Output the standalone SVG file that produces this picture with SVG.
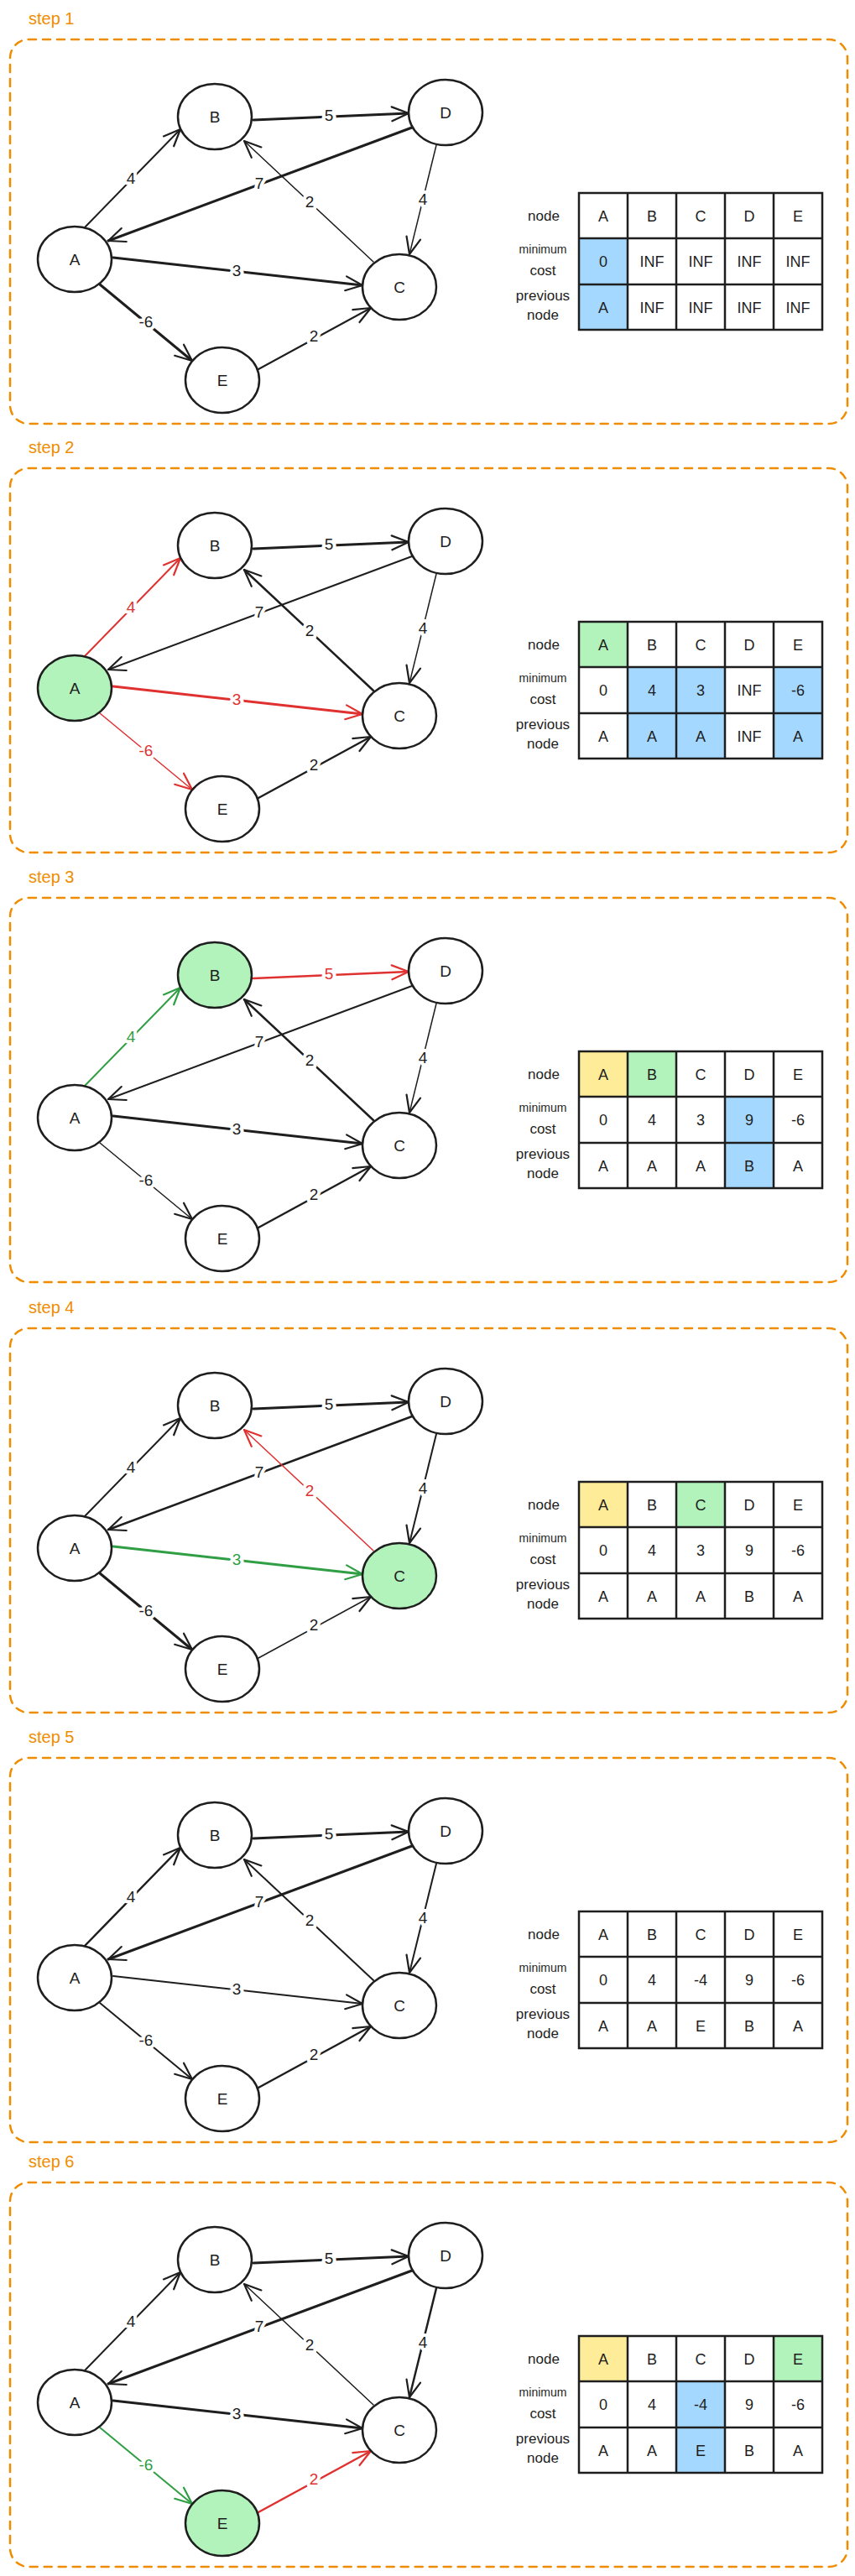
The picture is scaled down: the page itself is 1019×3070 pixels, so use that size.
<svg xmlns="http://www.w3.org/2000/svg" width="1019" height="3070" viewBox="0 0 1019 3070">
<style>
text{font-family:"Liberation Sans",Arial,sans-serif}
.box{fill:none;stroke:#f08c00;stroke-width:2.5;stroke-dasharray:9 8;stroke-linecap:round}
.step{font-size:20px;fill:#f08c00}
.node ellipse{fill:#fff;stroke:#1e1e1e;stroke-width:2.5}
.node.hl ellipse{fill:#b2f2bb}
.node text{font-size:19px;fill:#1e1e1e;text-anchor:middle}
.e{fill:none;stroke:#1e1e1e;stroke-linecap:round;marker-end:url(#arrK)}
.e.r{stroke:#e03131;marker-end:url(#arrR)}
.e.g{stroke:#2f9e44;marker-end:url(#arrG)}
.lbl{font-size:19px;text-anchor:middle;fill:#1e1e1e;stroke:#fff;stroke-width:8;paint-order:stroke;stroke-linejoin:round}
.lbl.r{fill:#e03131}
.lbl.g{fill:#2f9e44}
.grid{fill:none;stroke:#1e1e1e;stroke-width:2.5}
.cell{font-size:18px;text-anchor:middle;fill:#1e1e1e}
.rl{font-size:17px;text-anchor:middle;fill:#1e1e1e}
.rl.sm{font-size:14px}
.blue{fill:#a5d8ff}
.green{fill:#b2f2bb}
.yellow{fill:#ffec99}
</style>
<defs>
<marker id="arrK" markerUnits="userSpaceOnUse" markerWidth="26" markerHeight="22" viewBox="0 -11 26 22" refX="22" refY="0" orient="auto"><path d="M2,-8.5 L22,0 L2,8.5" fill="none" stroke="#1e1e1e" stroke-width="2.2" stroke-linecap="round" stroke-linejoin="round"/></marker>
<marker id="arrR" markerUnits="userSpaceOnUse" markerWidth="26" markerHeight="22" viewBox="0 -11 26 22" refX="22" refY="0" orient="auto"><path d="M2,-8.5 L22,0 L2,8.5" fill="none" stroke="#e03131" stroke-width="2.2" stroke-linecap="round" stroke-linejoin="round"/></marker>
<marker id="arrG" markerUnits="userSpaceOnUse" markerWidth="26" markerHeight="22" viewBox="0 -11 26 22" refX="22" refY="0" orient="auto"><path d="M2,-8.5 L22,0 L2,8.5" fill="none" stroke="#2f9e44" stroke-width="2.2" stroke-linecap="round" stroke-linejoin="round"/></marker>
</defs>
<rect width="1019" height="3070" fill="#fff"/>

<!-- STEP 1 -->
<g id="step1">
<text class="step" x="34" y="29">step 1</text>
<rect class="box" x="12" y="47" width="998" height="458" rx="22"/>
<g id="s1-edges">
<path class="e" stroke-width="2" d="M101,271 L215,154"/>
<path class="e" stroke-width="3" d="M302,143 L487,135"/>
<path class="e" stroke-width="3" d="M491,152 L129,287"/>
<path class="e" stroke-width="1.5" d="M445,312 L291,168"/>
<path class="e" stroke-width="1.5" d="M520,173 L488,303"/>
<path class="e" stroke-width="3" d="M135,307 L432,340"/>
<path class="e" stroke-width="3" d="M119,339 L229,430"/>
<path class="e" stroke-width="2" d="M308,440 L442,367"/>
<text class="lbl" x="156" y="219">4</text>
<text class="lbl" x="392" y="144">5</text>
<text class="lbl" x="309" y="225">7</text>
<text class="lbl" x="369" y="247">2</text>
<text class="lbl" x="504" y="244">4</text>
<text class="lbl" x="282" y="329">3</text>
<text class="lbl" x="174" y="390">-6</text>
<text class="lbl" x="374" y="407">2</text>
</g>
<g id="s1-A" class="node"><ellipse cx="89" cy="309" rx="44" ry="39"/><text x="89" y="316">A</text></g>
<g id="s1-B" class="node"><ellipse cx="256" cy="139" rx="44" ry="39"/><text x="256" y="146">B</text></g>
<g id="s1-D" class="node"><ellipse cx="531" cy="134" rx="44" ry="39"/><text x="531" y="141">D</text></g>
<g id="s1-C" class="node"><ellipse cx="476" cy="342" rx="44" ry="39"/><text x="476" y="349">C</text></g>
<g id="s1-E" class="node"><ellipse cx="265" cy="453" rx="44" ry="39"/><text x="265" y="460">E</text></g>
<g id="s1-table">
<rect class="blue" x="690" y="284" width="58" height="55"/>
<rect class="blue" x="690" y="339" width="58" height="54"/>
<path class="grid" d="M690,230H980V393H690Z M748,230V393 M806,230V393 M864,230V393 M922,230V393 M690,284H980 M690,339H980"/>
<text class="rl" x="648" y="263">node</text>
<text class="rl sm" x="647" y="302">minimum</text>
<text class="rl" x="647" y="328">cost</text>
<text class="rl" x="647" y="358">previous</text>
<text class="rl" x="647" y="381">node</text>
<text class="cell" x="719" y="264">A</text><text class="cell" x="777" y="264">B</text><text class="cell" x="835" y="264">C</text><text class="cell" x="893" y="264">D</text><text class="cell" x="951" y="264">E</text>
<text class="cell" x="719" y="318">0</text><text class="cell" x="777" y="318">INF</text><text class="cell" x="835" y="318">INF</text><text class="cell" x="893" y="318">INF</text><text class="cell" x="951" y="318">INF</text>
<text class="cell" x="719" y="373">A</text><text class="cell" x="777" y="373">INF</text><text class="cell" x="835" y="373">INF</text><text class="cell" x="893" y="373">INF</text><text class="cell" x="951" y="373">INF</text>
</g>
</g>

<!-- STEP 2 -->
<g id="step2" transform="translate(0,511)">
<text class="step" x="34" y="29">step 2</text>
<rect class="box" x="12" y="47" width="998" height="458" rx="22"/>
<g id="s2-edges">
<path class="e r" stroke-width="2" d="M101,271 L215,154"/>
<path class="e" stroke-width="3" d="M302,143 L487,135"/>
<path class="e" stroke-width="2" d="M491,152 L129,287"/>
<path class="e" stroke-width="2.5" d="M445,312 L291,168"/>
<path class="e" stroke-width="1.5" d="M520,173 L488,303"/>
<path class="e r" stroke-width="3" d="M135,307 L432,340"/>
<path class="e r" stroke-width="1.5" d="M119,339 L229,430"/>
<path class="e" stroke-width="2.5" d="M308,440 L442,367"/>
<text class="lbl r" x="156" y="219">4</text>
<text class="lbl" x="392" y="144">5</text>
<text class="lbl" x="309" y="225">7</text>
<text class="lbl" x="369" y="247">2</text>
<text class="lbl" x="504" y="244">4</text>
<text class="lbl r" x="282" y="329">3</text>
<text class="lbl r" x="174" y="390">-6</text>
<text class="lbl" x="374" y="407">2</text>
</g>
<g id="s2-A" class="node hl"><ellipse cx="89" cy="309" rx="44" ry="39"/><text x="89" y="316">A</text></g>
<g id="s2-B" class="node"><ellipse cx="256" cy="139" rx="44" ry="39"/><text x="256" y="146">B</text></g>
<g id="s2-D" class="node"><ellipse cx="531" cy="134" rx="44" ry="39"/><text x="531" y="141">D</text></g>
<g id="s2-C" class="node"><ellipse cx="476" cy="342" rx="44" ry="39"/><text x="476" y="349">C</text></g>
<g id="s2-E" class="node"><ellipse cx="265" cy="453" rx="44" ry="39"/><text x="265" y="460">E</text></g>
<g id="s2-table">
<rect class="green" x="690" y="230" width="58" height="54"/>
<rect class="blue" x="748" y="284" width="58" height="55"/>
<rect class="blue" x="806" y="284" width="58" height="55"/>
<rect class="blue" x="922" y="284" width="58" height="55"/>
<rect class="blue" x="748" y="339" width="58" height="54"/>
<rect class="blue" x="806" y="339" width="58" height="54"/>
<rect class="blue" x="922" y="339" width="58" height="54"/>
<path class="grid" d="M690,230H980V393H690Z M748,230V393 M806,230V393 M864,230V393 M922,230V393 M690,284H980 M690,339H980"/>
<text class="rl" x="648" y="263">node</text>
<text class="rl sm" x="647" y="302">minimum</text>
<text class="rl" x="647" y="328">cost</text>
<text class="rl" x="647" y="358">previous</text>
<text class="rl" x="647" y="381">node</text>
<text class="cell" x="719" y="264">A</text><text class="cell" x="777" y="264">B</text><text class="cell" x="835" y="264">C</text><text class="cell" x="893" y="264">D</text><text class="cell" x="951" y="264">E</text>
<text class="cell" x="719" y="318">0</text><text class="cell" x="777" y="318">4</text><text class="cell" x="835" y="318">3</text><text class="cell" x="893" y="318">INF</text><text class="cell" x="951" y="318">-6</text>
<text class="cell" x="719" y="373">A</text><text class="cell" x="777" y="373">A</text><text class="cell" x="835" y="373">A</text><text class="cell" x="893" y="373">INF</text><text class="cell" x="951" y="373">A</text>
</g>
</g>

<!-- STEP 3 -->
<g id="step3" transform="translate(0,1023)">
<text class="step" x="34" y="29">step 3</text>
<rect class="box" x="12" y="47" width="998" height="458" rx="22"/>
<g id="s3-edges">
<path class="e g" stroke-width="2" d="M101,271 L215,154"/>
<path class="e r" stroke-width="2.5" d="M302,143 L487,135"/>
<path class="e" stroke-width="2" d="M491,152 L129,287"/>
<path class="e" stroke-width="2.5" d="M445,312 L291,168"/>
<path class="e" stroke-width="1.5" d="M520,173 L488,303"/>
<path class="e" stroke-width="3" d="M135,307 L432,340"/>
<path class="e" stroke-width="1.5" d="M119,339 L229,430"/>
<path class="e" stroke-width="2.5" d="M308,440 L442,367"/>
<text class="lbl g" x="156" y="219">4</text>
<text class="lbl r" x="392" y="144">5</text>
<text class="lbl" x="309" y="225">7</text>
<text class="lbl" x="369" y="247">2</text>
<text class="lbl" x="504" y="244">4</text>
<text class="lbl" x="282" y="329">3</text>
<text class="lbl" x="174" y="390">-6</text>
<text class="lbl" x="374" y="407">2</text>
</g>
<g id="s3-A" class="node"><ellipse cx="89" cy="309" rx="44" ry="39"/><text x="89" y="316">A</text></g>
<g id="s3-B" class="node hl"><ellipse cx="256" cy="139" rx="44" ry="39"/><text x="256" y="146">B</text></g>
<g id="s3-D" class="node"><ellipse cx="531" cy="134" rx="44" ry="39"/><text x="531" y="141">D</text></g>
<g id="s3-C" class="node"><ellipse cx="476" cy="342" rx="44" ry="39"/><text x="476" y="349">C</text></g>
<g id="s3-E" class="node"><ellipse cx="265" cy="453" rx="44" ry="39"/><text x="265" y="460">E</text></g>
<g id="s3-table">
<rect class="yellow" x="690" y="230" width="58" height="54"/>
<rect class="green" x="748" y="230" width="58" height="54"/>
<rect class="blue" x="864" y="284" width="58" height="55"/>
<rect class="blue" x="864" y="339" width="58" height="54"/>
<path class="grid" d="M690,230H980V393H690Z M748,230V393 M806,230V393 M864,230V393 M922,230V393 M690,284H980 M690,339H980"/>
<text class="rl" x="648" y="263">node</text>
<text class="rl sm" x="647" y="302">minimum</text>
<text class="rl" x="647" y="328">cost</text>
<text class="rl" x="647" y="358">previous</text>
<text class="rl" x="647" y="381">node</text>
<text class="cell" x="719" y="264">A</text><text class="cell" x="777" y="264">B</text><text class="cell" x="835" y="264">C</text><text class="cell" x="893" y="264">D</text><text class="cell" x="951" y="264">E</text>
<text class="cell" x="719" y="318">0</text><text class="cell" x="777" y="318">4</text><text class="cell" x="835" y="318">3</text><text class="cell" x="893" y="318">9</text><text class="cell" x="951" y="318">-6</text>
<text class="cell" x="719" y="373">A</text><text class="cell" x="777" y="373">A</text><text class="cell" x="835" y="373">A</text><text class="cell" x="893" y="373">B</text><text class="cell" x="951" y="373">A</text>
</g>
</g>

<!-- STEP 4 -->
<g id="step4" transform="translate(0,1536)">
<text class="step" x="34" y="29">step 4</text>
<rect class="box" x="12" y="47" width="998" height="458" rx="22"/>
<g id="s4-edges">
<path class="e" stroke-width="2" d="M101,271 L215,154"/>
<path class="e" stroke-width="3" d="M302,143 L487,135"/>
<path class="e" stroke-width="2.5" d="M491,152 L129,287"/>
<path class="e r" stroke-width="1.5" d="M445,312 L291,168"/>
<path class="e" stroke-width="2" d="M520,173 L488,303"/>
<path class="e g" stroke-width="3" d="M135,307 L432,340"/>
<path class="e" stroke-width="3" d="M119,339 L229,430"/>
<path class="e" stroke-width="1.5" d="M308,440 L442,367"/>
<text class="lbl" x="156" y="219">4</text>
<text class="lbl" x="392" y="144">5</text>
<text class="lbl" x="309" y="225">7</text>
<text class="lbl r" x="369" y="247">2</text>
<text class="lbl" x="504" y="244">4</text>
<text class="lbl g" x="282" y="329">3</text>
<text class="lbl" x="174" y="390">-6</text>
<text class="lbl" x="374" y="407">2</text>
</g>
<g id="s4-A" class="node"><ellipse cx="89" cy="309" rx="44" ry="39"/><text x="89" y="316">A</text></g>
<g id="s4-B" class="node"><ellipse cx="256" cy="139" rx="44" ry="39"/><text x="256" y="146">B</text></g>
<g id="s4-D" class="node"><ellipse cx="531" cy="134" rx="44" ry="39"/><text x="531" y="141">D</text></g>
<g id="s4-C" class="node hl"><ellipse cx="476" cy="342" rx="44" ry="39"/><text x="476" y="349">C</text></g>
<g id="s4-E" class="node"><ellipse cx="265" cy="453" rx="44" ry="39"/><text x="265" y="460">E</text></g>
<g id="s4-table">
<rect class="yellow" x="690" y="230" width="58" height="54"/>
<rect class="green" x="806" y="230" width="58" height="54"/>
<path class="grid" d="M690,230H980V393H690Z M748,230V393 M806,230V393 M864,230V393 M922,230V393 M690,284H980 M690,339H980"/>
<text class="rl" x="648" y="263">node</text>
<text class="rl sm" x="647" y="302">minimum</text>
<text class="rl" x="647" y="328">cost</text>
<text class="rl" x="647" y="358">previous</text>
<text class="rl" x="647" y="381">node</text>
<text class="cell" x="719" y="264">A</text><text class="cell" x="777" y="264">B</text><text class="cell" x="835" y="264">C</text><text class="cell" x="893" y="264">D</text><text class="cell" x="951" y="264">E</text>
<text class="cell" x="719" y="318">0</text><text class="cell" x="777" y="318">4</text><text class="cell" x="835" y="318">3</text><text class="cell" x="893" y="318">9</text><text class="cell" x="951" y="318">-6</text>
<text class="cell" x="719" y="373">A</text><text class="cell" x="777" y="373">A</text><text class="cell" x="835" y="373">A</text><text class="cell" x="893" y="373">B</text><text class="cell" x="951" y="373">A</text>
</g>
</g>

<!-- STEP 5 -->
<g id="step5" transform="translate(0,2048)">
<text class="step" x="34" y="29">step 5</text>
<rect class="box" x="12" y="47" width="998" height="458" rx="22"/>
<g id="s5-edges">
<path class="e" stroke-width="2.5" d="M101,271 L215,154"/>
<path class="e" stroke-width="3" d="M302,143 L487,135"/>
<path class="e" stroke-width="3" d="M491,152 L129,287"/>
<path class="e" stroke-width="2" d="M445,312 L291,168"/>
<path class="e" stroke-width="2" d="M520,173 L488,303"/>
<path class="e" stroke-width="2" d="M135,307 L432,340"/>
<path class="e" stroke-width="2" d="M119,339 L229,430"/>
<path class="e" stroke-width="2.5" d="M308,440 L442,367"/>
<text class="lbl" x="156" y="219">4</text>
<text class="lbl" x="392" y="144">5</text>
<text class="lbl" x="309" y="225">7</text>
<text class="lbl" x="369" y="247">2</text>
<text class="lbl" x="504" y="244">4</text>
<text class="lbl" x="282" y="329">3</text>
<text class="lbl" x="174" y="390">-6</text>
<text class="lbl" x="374" y="407">2</text>
</g>
<g id="s5-A" class="node"><ellipse cx="89" cy="309" rx="44" ry="39"/><text x="89" y="316">A</text></g>
<g id="s5-B" class="node"><ellipse cx="256" cy="139" rx="44" ry="39"/><text x="256" y="146">B</text></g>
<g id="s5-D" class="node"><ellipse cx="531" cy="134" rx="44" ry="39"/><text x="531" y="141">D</text></g>
<g id="s5-C" class="node"><ellipse cx="476" cy="342" rx="44" ry="39"/><text x="476" y="349">C</text></g>
<g id="s5-E" class="node"><ellipse cx="265" cy="453" rx="44" ry="39"/><text x="265" y="460">E</text></g>
<g id="s5-table">
<path class="grid" d="M690,230H980V393H690Z M748,230V393 M806,230V393 M864,230V393 M922,230V393 M690,284H980 M690,339H980"/>
<text class="rl" x="648" y="263">node</text>
<text class="rl sm" x="647" y="302">minimum</text>
<text class="rl" x="647" y="328">cost</text>
<text class="rl" x="647" y="358">previous</text>
<text class="rl" x="647" y="381">node</text>
<text class="cell" x="719" y="264">A</text><text class="cell" x="777" y="264">B</text><text class="cell" x="835" y="264">C</text><text class="cell" x="893" y="264">D</text><text class="cell" x="951" y="264">E</text>
<text class="cell" x="719" y="318">0</text><text class="cell" x="777" y="318">4</text><text class="cell" x="835" y="318">-4</text><text class="cell" x="893" y="318">9</text><text class="cell" x="951" y="318">-6</text>
<text class="cell" x="719" y="373">A</text><text class="cell" x="777" y="373">A</text><text class="cell" x="835" y="373">E</text><text class="cell" x="893" y="373">B</text><text class="cell" x="951" y="373">A</text>
</g>
</g>

<!-- STEP 6 -->
<g id="step6" transform="translate(0,2554)">
<text class="step" x="34" y="29">step 6</text>
<rect class="box" x="12" y="47" width="998" height="458" rx="22"/>
<g id="s6-edges">
<path class="e" stroke-width="2" d="M101,271 L215,154"/>
<path class="e" stroke-width="3" d="M302,143 L487,135"/>
<path class="e" stroke-width="3" d="M491,152 L129,287"/>
<path class="e" stroke-width="1.5" d="M445,312 L291,168"/>
<path class="e" stroke-width="2.5" d="M520,173 L488,303"/>
<path class="e" stroke-width="3" d="M135,307 L432,340"/>
<path class="e g" stroke-width="2" d="M119,339 L229,430"/>
<path class="e r" stroke-width="2.5" d="M308,440 L442,367"/>
<text class="lbl" x="156" y="219">4</text>
<text class="lbl" x="392" y="144">5</text>
<text class="lbl" x="309" y="225">7</text>
<text class="lbl" x="369" y="247">2</text>
<text class="lbl" x="504" y="244">4</text>
<text class="lbl" x="282" y="329">3</text>
<text class="lbl g" x="174" y="390">-6</text>
<text class="lbl r" x="374" y="407">2</text>
</g>
<g id="s6-A" class="node"><ellipse cx="89" cy="309" rx="44" ry="39"/><text x="89" y="316">A</text></g>
<g id="s6-B" class="node"><ellipse cx="256" cy="139" rx="44" ry="39"/><text x="256" y="146">B</text></g>
<g id="s6-D" class="node"><ellipse cx="531" cy="134" rx="44" ry="39"/><text x="531" y="141">D</text></g>
<g id="s6-C" class="node"><ellipse cx="476" cy="342" rx="44" ry="39"/><text x="476" y="349">C</text></g>
<g id="s6-E" class="node hl"><ellipse cx="265" cy="453" rx="44" ry="39"/><text x="265" y="460">E</text></g>
<g id="s6-table">
<rect class="yellow" x="690" y="230" width="58" height="54"/>
<rect class="green" x="922" y="230" width="58" height="54"/>
<rect class="blue" x="806" y="284" width="58" height="55"/>
<rect class="blue" x="806" y="339" width="58" height="54"/>
<path class="grid" d="M690,230H980V393H690Z M748,230V393 M806,230V393 M864,230V393 M922,230V393 M690,284H980 M690,339H980"/>
<text class="rl" x="648" y="263">node</text>
<text class="rl sm" x="647" y="302">minimum</text>
<text class="rl" x="647" y="328">cost</text>
<text class="rl" x="647" y="358">previous</text>
<text class="rl" x="647" y="381">node</text>
<text class="cell" x="719" y="264">A</text><text class="cell" x="777" y="264">B</text><text class="cell" x="835" y="264">C</text><text class="cell" x="893" y="264">D</text><text class="cell" x="951" y="264">E</text>
<text class="cell" x="719" y="318">0</text><text class="cell" x="777" y="318">4</text><text class="cell" x="835" y="318">-4</text><text class="cell" x="893" y="318">9</text><text class="cell" x="951" y="318">-6</text>
<text class="cell" x="719" y="373">A</text><text class="cell" x="777" y="373">A</text><text class="cell" x="835" y="373">E</text><text class="cell" x="893" y="373">B</text><text class="cell" x="951" y="373">A</text>
</g>
</g>
</svg>
